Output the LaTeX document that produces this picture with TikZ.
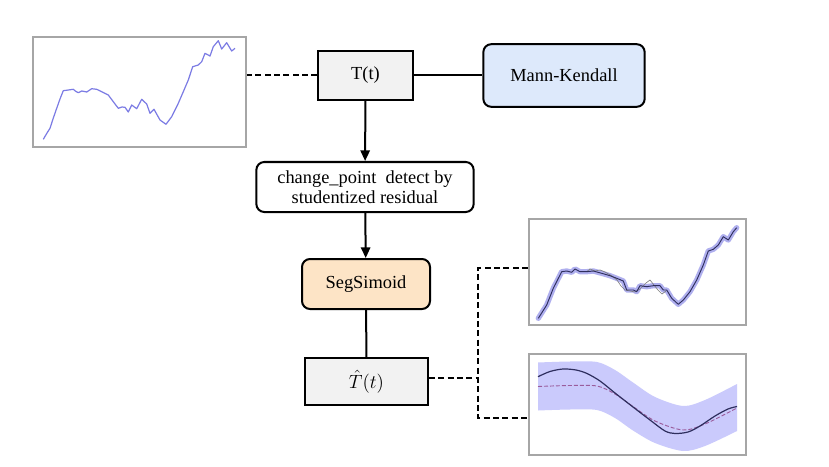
\documentclass[tikz,border=0pt]{standalone}
\usepackage{fontspec}
\setmainfont{Liberation Serif}
\usepackage{xcolor}
\usepackage{tikz}
\usetikzlibrary{
    arrows.meta,
    positioning,
    calc
}
\definecolor{boxgrey}{HTML}{F2F2F2}
\definecolor{mkblue}{HTML}{DDE9FB}
\definecolor{segorange}{HTML}{FDE4C6}
\definecolor{framegrey}{HTML}{A6A6A6}
\definecolor{seriesblue}{HTML}{7B7BE4}
\definecolor{bandblue}{HTML}{CACAFC}
\definecolor{fitnavy}{HTML}{2E2E5E}
\definecolor{meanpurple}{HTML}{9A5C9C}
\tikzset{
    block/.style={
        rectangle,
        rounded corners=6pt,
        draw=black,
        line width=1.5pt,
        align=center,
        font=\fontsize{13.8}{15}\selectfont
    },
    greyblock/.style={
        rectangle,
        draw=black,
        line width=1.5pt,
        fill=boxgrey,
        align=center,
        font=\fontsize{13.8}{15}\selectfont
    },
    plotframe/.style={
        rectangle,
        draw=framegrey,
        line width=1.5pt,
        fill=white,
        inner sep=0pt
    },
    arrow/.style={
        -{Triangle[length=8pt,width=7pt]},
        line width=1.5pt
    },
    link/.style={
        line width=1.5pt
    },
    dashlink/.style={
        dashed,
        dash pattern=on 4.5pt off 2.5pt,
        line width=1.5pt
    }
}
\begin{document}
\begin{tikzpicture}[x=0.75pt,y=-0.75pt]
\useasboundingbox (0,0) rectangle (829,467);
\fill[white] (0,0) rectangle (829,467);

\node[greyblock, minimum width=71pt, minimum height=37pt] (t) at (365.5,75.5) {T(t)};
\node[block, fill=mkblue, minimum width=121pt, minimum height=47pt] (mk) at (564,75.5) {Mann-Kendall};
\node[block, fill=white, minimum width=163pt, minimum height=37.5pt, inner sep=1pt] (cp) at (365,187) {change\_point~ detect by\\studentized residual};
\node[block, fill=segorange, minimum width=96pt, minimum height=37.5pt] (seg) at (366,284) {SegSimoid};
\node[greyblock, minimum width=92pt, minimum height=35pt] (that) at (366.5,381.5) {$\hat{T}(t)$};

\node[plotframe, minimum width=160pt, minimum height=82.5pt] (raw) at (139.5,92) {};
\node[plotframe, minimum width=163pt, minimum height=79.5pt] (fit) at (637.5,272) {};
\node[plotframe, minimum width=163pt, minimum height=75.75pt] (band) at (637.5,404.5) {};

\draw[seriesblue, line width=0.9pt, line join=round]
    plot coordinates {(43.3,139.3) (47,133) (50,128.3) (53,119) (56.7,108.3) (60,99) (63.3,90.7)
    (68.3,90) (73.3,89.3) (76,91.5) (78.3,92.7) (81.7,91) (86.7,92) (91.7,88.7) (96.7,89.3)
    (101.7,91.7) (108.3,95) (113.3,101.7) (118.3,108.3) (122,107) (125,107.3) (128.3,112)
    (131.7,105) (136.7,108.7) (141.7,99.3) (146.7,104) (150,113.3) (154,109.3) (160,120)
    (166,124.3) (171.7,116.7) (178.3,103.3) (183.3,91.7) (188.3,80) (192.7,66.7) (198.3,65)
    (201.7,61.7) (205,53.3) (210,56) (213.3,46.7) (218.3,40.7) (221.7,49) (226.7,42.7)
    (231.7,51) (235,48.3)};

\draw[seriesblue, opacity=0.6, line width=4pt, line join=round, line cap=round]
    plot coordinates {(538.3,318.3) (546.7,305) (553.3,288.3) (561.7,271.7) (566.7,271)
    (571.7,272.3) (575,269) (580,271.7) (586.7,271.7) (593.3,271) (601.7,273.3) (610,275.7)
    (616.7,278.3) (623.3,281) (626.7,290) (633.3,290) (636.7,291.7) (640,285.7) (646.7,286.7)
    (653.3,285.7) (660,285.7) (663.3,290) (666.7,290) (671.7,298.3) (678.3,304.3) (683.3,300)
    (690,291.7) (696.7,280) (703.3,265) (708.3,251) (713.3,249.3) (718.3,245) (723.3,236.7)
    (728.3,240) (733.3,231.7) (736.7,227.7)};
\draw[gray, line width=0.5pt]
    plot coordinates {(586.7,271.7) (590,269) (595,271) (600,270) (605,272) (612,276) (617,280)
    (621,286) (625,290) (630,291) (635,292) (640,289) (646,283) (650,280) (654,285) (658,290)
    (662,294) (666,291)};
\draw[fitnavy, line width=0.7pt, line join=round]
    plot coordinates {(538.3,318.3) (546.7,305) (553.3,288.3) (561.7,271.7) (566.7,271)
    (571.7,272.3) (575,269) (580,271.7) (586.7,271.7) (593.3,271) (601.7,273.3) (610,275.7)
    (616.7,278.3) (623.3,281) (626.7,290) (633.3,290) (636.7,291.7) (640,285.7) (646.7,286.7)
    (653.3,285.7) (660,285.7) (663.3,290) (666.7,290) (671.7,298.3) (678.3,304.3) (683.3,300)
    (690,291.7) (696.7,280) (703.3,265) (708.3,251) (713.3,249.3) (718.3,245) (723.3,236.7)
    (728.3,240) (733.3,231.7) (736.7,227.7)};

\fill[bandblue]
    plot[smooth] coordinates {(538,362.5) (570,361.5) (597,362) (615,370) (633,382.5) (655,397)
    (683,406) (705,400) (737,384)}
    -- plot[smooth] coordinates {(737,431) (705,446) (683,451) (655,443) (633,430.5) (615,418)
    (597,410) (570,409.5) (538,410.5)} -- cycle;
\draw[meanpurple, dashed, dash pattern=on 3pt off 1.5pt, line width=0.7pt]
    plot[smooth] coordinates {(538,386.5) (570,385.5) (597,386) (615,394) (633,406.5) (655,421)
    (683,430) (705,424) (737,408)};
\draw[fitnavy, line width=0.9pt]
    plot[smooth] coordinates {(538,376.7) (550,371.5) (563,369) (576,370) (587,373.5) (600,381)
    (615,393) (633,407) (650,420) (665,431) (675,433.5) (688,432) (700,426) (715,416) (728,409)
    (737,406.5)};

\coordinate (fork) at (478,378);

\draw[dashlink] (t.west) -- (t.west -| raw.east);
\draw[link] (t) -- (mk);
\draw[arrow] (t) -- (cp);
\draw[arrow] (cp) -- (seg);
\draw[link] (seg) -- (that);
\draw[dashlink] (that.east |- fork) -- (fork);
\draw[dashlink] ([yshift=3pt]fit.west) -| (fork) |- ([yshift=-10pt]band.west);
\end{tikzpicture}
\end{document}
